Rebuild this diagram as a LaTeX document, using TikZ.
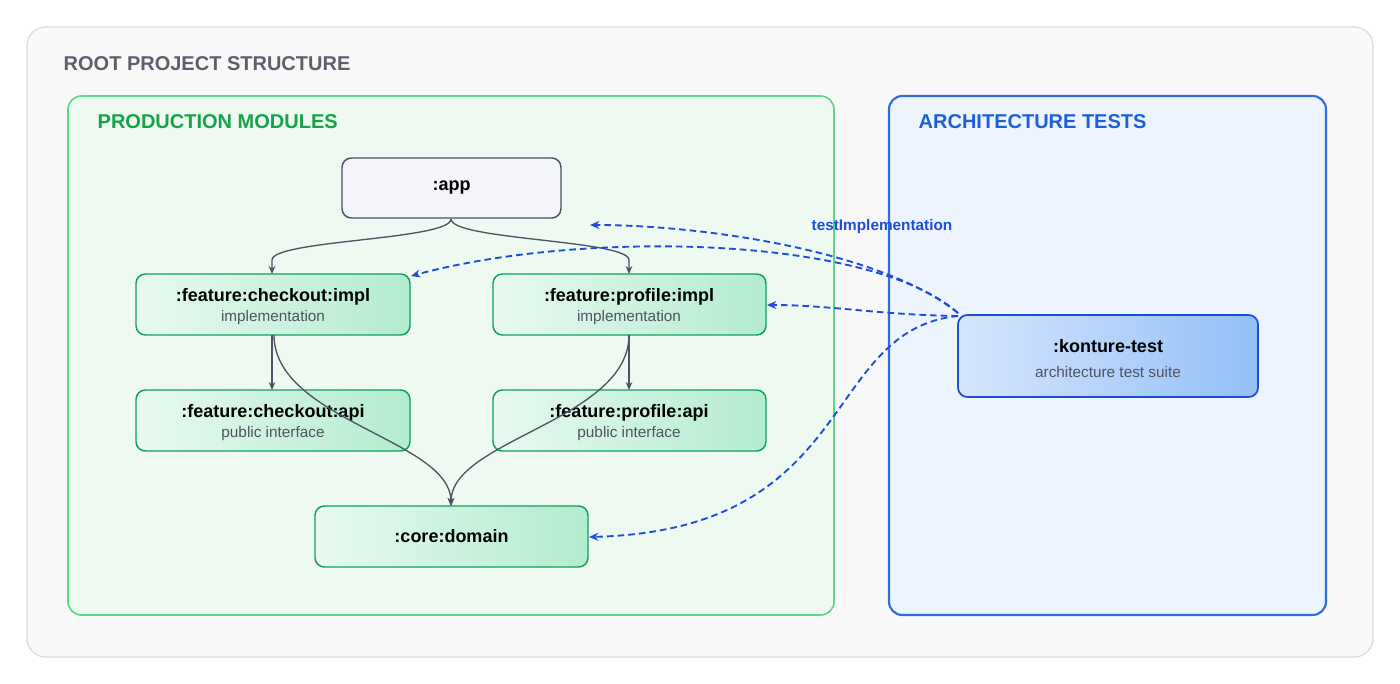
\documentclass[tikz,border=0pt]{standalone}
\usepackage{fontspec}
\setmainfont{Liberation Sans}
\usetikzlibrary{arrows.meta}
\definecolor{outerfill}{HTML}{F8F8F9}
\definecolor{outerline}{HTML}{DCDCDE}
\definecolor{rootgray}{HTML}{5F5F6B}
\definecolor{prodfill}{HTML}{EEF9F1}
\definecolor{prodline}{HTML}{5DD68A}
\definecolor{prodtext}{HTML}{16A34A}
\definecolor{archfill}{HTML}{EEF4FD}
\definecolor{archline}{HTML}{2B6FE0}
\definecolor{archtext}{HTML}{1D5FD6}
\definecolor{appfill}{HTML}{F3F5F9}
\definecolor{edgegray}{HTML}{4B5563}
\definecolor{grnline}{HTML}{10A060}
\definecolor{grnA}{HTML}{E8F9F0}
\definecolor{grnB}{HTML}{B3ECCF}
\definecolor{bluA}{HTML}{D6E6FC}
\definecolor{bluB}{HTML}{93C0F8}
\definecolor{bluline}{HTML}{1D4ED8}
\definecolor{dash}{HTML}{1D4ED8}
\definecolor{subtext}{HTML}{4B5563}
\begin{document}
\begin{tikzpicture}[x=0.75pt,y=-0.75pt,
  mod/.style={draw=grnline,line width=1.1pt,rounded corners=7pt,left color=grnA,right color=grnB},
  title/.style={font=\bfseries\fontsize{13.5}{15}\selectfont,text=black},
  sub/.style={font=\fontsize{11.5}{13}\selectfont,text=subtext},
  dep/.style={draw=edgegray,line width=1pt,-{Stealth[length=6pt,width=5pt]}},
  tst/.style={draw=dash,line width=1.4pt,dashed,dash pattern=on 5pt off 3pt,-{Stealth[length=7pt,width=6pt]}}]
\useasboundingbox (0,0) rectangle (1400,684);
\draw[fill=outerfill,draw=outerline,line width=1pt,rounded corners=14pt] (27,27) rectangle (1373,657);
\node[anchor=west,text=rootgray,font=\bfseries\fontsize{15}{17}\selectfont] (root) at (59,64) {ROOT PROJECT STRUCTURE};
\draw[fill=prodfill,draw=prodline,line width=1.2pt,rounded corners=10pt] (68,96) rectangle (834,615);
\node[anchor=west,text=prodtext,font=\bfseries\fontsize{15}{17}\selectfont] (prodt) at (93,122) {PRODUCTION MODULES};
\draw[fill=archfill,draw=archline,line width=1.6pt,rounded corners=10pt] (889,96) rectangle (1326,615);
\node[anchor=west,text=archtext,font=\bfseries\fontsize{15}{17}\selectfont] (archt) at (914,122) {ARCHITECTURE TESTS};

\draw[fill=appfill,draw=edgegray,line width=1.1pt,rounded corners=7pt] (342,158) rectangle (561,218);
\node[title] (app) at (451.5,188) {:app};
\coordinate (appS) at (451,219);

\draw[mod] (136,274) rectangle (410,335);
\node[title] at (273,297) {:feature:checkout:impl};
\node[sub] at (273,318) {implementation};
\coordinate (ciN) at (272,274); \coordinate (ciS) at (272,335); \coordinate (ciE) at (411,276);

\draw[mod] (493,274) rectangle (766,335);
\node[title] at (629,297) {:feature:profile:impl};
\node[sub] at (629,318) {implementation};
\coordinate (piN) at (629,274); \coordinate (piS) at (629,335); \coordinate (piE) at (767,305);

\draw[mod] (136,390) rectangle (410,451);
\node[title] at (273,413) {:feature:checkout:api};
\node[sub] at (273,434) {public interface};
\coordinate (caN) at (272,390);

\draw[mod] (493,390) rectangle (766,451);
\node[title] at (629,413) {:feature:profile:api};
\node[sub] at (629,434) {public interface};
\coordinate (paN) at (629,390);

\draw[mod] (315,506) rectangle (588,567);
\node[title] at (451.5,536) {:core:domain};
\coordinate (cdN) at (451,506); \coordinate (cdE) at (589,537);

\draw[draw=bluline,line width=1.3pt,rounded corners=7pt,left color=bluA,right color=bluB] (958,315) rectangle (1258,397);
\node[title] at (1108,346) {:konture-test};
\node[sub] at (1108,372) {architecture test suite};
\coordinate (kt) at (958,316);
\coordinate (kt2) at (958,313);

% dependencies
\draw[dep] (appS) .. controls (451,240) and (272,240) .. (272,260) -- (ciN);
\draw[dep] (appS) .. controls (451,240) and (629,240) .. (629,260) -- (piN);
\draw[dep] (ciS) -- (caN);
\draw[dep] (piS) -- (paN);
\draw[dep] (274,335) .. controls (274,420) and (451,440) .. (cdN);
\draw[dep] (629,335) .. controls (629,420) and (451,440) .. (cdN);

% test dependencies
\draw[tst] (kt2) .. controls (880,250) and (700,225) .. (590,225);
\draw[tst] (kt2) .. controls (870,235) and (580,230) .. (ciE);
\draw[tst] (kt) .. controls (880,315) and (830,305) .. (piE);
\draw[tst] (kt) .. controls (820,330) and (860,530) .. (cdE);
\node[text=dash,font=\bfseries\fontsize{11.5}{13}\selectfont] (lbl) at (882,227) {testImplementation};
\end{tikzpicture}
\end{document}
